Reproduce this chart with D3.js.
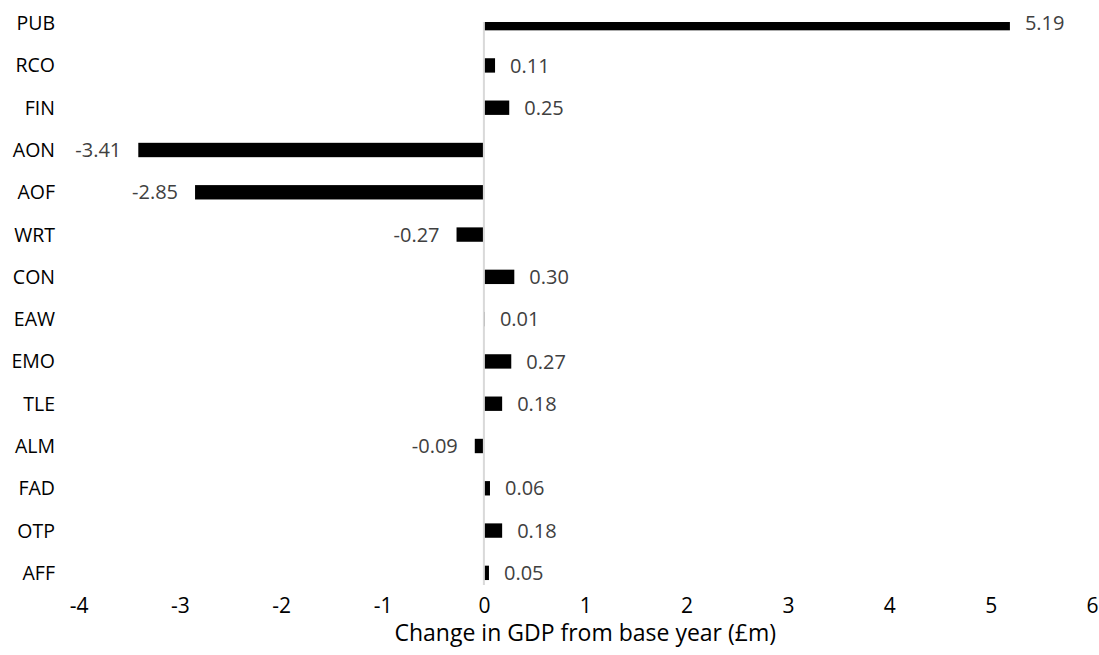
<!DOCTYPE html>
<html>
<head>
<meta charset="utf-8">
<script src="https://cdn.jsdelivr.net/npm/d3@7"></script>
<style>
  html, body { margin: 0; padding: 0; background: #fff; }
  svg text { font-family: "Open Sans", "Noto Sans", sans-serif; }
</style>
</head>
<body>
<div id="chart"></div>
<script>
// sectors, top to bottom as shown
const sectors = ["PUB", "RCO", "FIN", "AON", "AOF", "WRT", "CON", "EAW", "EMO", "TLE", "ALM", "FAD", "OTP", "AFF"];
const gdpChange = [5.19, 0.11, 0.25, -3.41, -2.85, -0.27, 0.30, 0.01, 0.27, 0.18, -0.09, 0.06, 0.18, 0.05];
const xTicks = [-4, -3, -2, -1, 0, 1, 2, 3, 4, 5, 6];
const xTitle = "Change in GDP from base year (£m)";

const width = 1099, height = 655;
const plotTop = 22, plotBottom = 585;

const svg = d3.select("#chart").append("svg")
    .attr("width", width)
    .attr("height", height);

const x = d3.scaleLinear().domain([-4, 6]).range([78.5, 1092]);
const y = d3.scaleBand().domain(sectors).range([2, 594]).paddingInner(0.66).paddingOuter(0.33);

const data = sectors.map((s, i) => ({ sector: s, value: gdpChange[i] }));

// plot area clip (top bar is cut off in the original)
svg.append("clipPath").attr("id", "plot-clip")
    .append("rect")
    .attr("x", 0).attr("y", plotTop)
    .attr("width", width).attr("height", plotBottom - plotTop);

svg.append("g")
    .attr("clip-path", "url(#plot-clip)")
    .selectAll("rect")
    .data(data)
    .join("rect")
    .attr("x", d => x(Math.min(0, d.value)))
    .attr("y", d => y(d.sector))
    .attr("width", d => Math.abs(x(d.value) - x(0)))
    .attr("height", y.bandwidth())
    .attr("fill", "#000");

// zero line
svg.append("line")
    .attr("x1", x(0)).attr("x2", x(0))
    .attr("y1", plotTop).attr("y2", plotBottom)
    .attr("stroke", "#d9d9d9")
    .attr("stroke-width", 2);

// value labels
svg.append("g")
    .selectAll("text")
    .data(data)
    .join("text")
    .attr("x", d => d.value < 0 ? x(d.value) - 17 : x(d.value) + 15)
    .attr("y", d => y(d.sector) + y.bandwidth() / 2)
    .attr("dy", "0.36em")
    .attr("text-anchor", d => d.value < 0 ? "end" : "start")
    .attr("font-size", 20)
    .attr("fill", "#404040")
    .text(d => d.value.toFixed(2));

// category labels
svg.append("g")
    .selectAll("text")
    .data(sectors)
    .join("text")
    .attr("x", 55)
    .attr("y", d => y(d) + y.bandwidth() / 2)
    .attr("dy", "0.36em")
    .attr("text-anchor", "end")
    .attr("font-size", 19.5)
    .attr("fill", "#000")
    .text(d => d);

// x axis (labels only, no domain line)
const xAxis = svg.append("g")
    .attr("transform", `translate(0, ${plotBottom})`)
    .call(d3.axisBottom(x).tickValues(xTicks).tickSize(0).tickPadding(0)
        .tickFormat(d => String(d)));
xAxis.select(".domain").remove();
xAxis.selectAll("text")
    .attr("y", 20)
    .attr("dy", "0.36em")
    .attr("font-size", 21)
    .attr("font-family", "'Open Sans', 'Noto Sans', sans-serif")
    .attr("fill", "#000");

svg.append("text")
    .attr("x", (x(-4) + x(6)) / 2)
    .attr("y", 641)
    .attr("text-anchor", "middle")
    .attr("font-size", 23)
    .attr("fill", "#000")
    .text(xTitle);
</script>
</body>
</html>
